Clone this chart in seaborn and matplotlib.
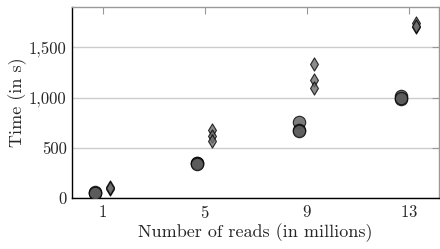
import numpy as np
import pandas as pd
import matplotlib
matplotlib.use("Agg")
import matplotlib.pyplot as plt
import seaborn as sns
from matplotlib.ticker import FuncFormatter

# measured runtimes, three runs per size
reads = [1, 5, 9, 13]
time_circle = [[50, 60, 55], [345, 350, 340], [760, 680, 670], [1020, 990, 1000]]
time_diamond = [[95, 110, 100], [680, 620, 570], [1335, 1170, 1095], [1740, 1700, 1710]]
xticks = [1, 5, 9, 13]
yticks = [0, 500, 1000, 1500]

rows = []
for r, tc, td in zip(reads, time_circle, time_diamond):
    for v in tc:
        rows.append({"reads": r, "time": v, "tool": "A"})
    for v in td:
        rows.append({"reads": r, "time": v, "tool": "B"})
df = pd.DataFrame(rows)
# small horizontal dodge so the two tools don't sit on top of each other
df["xpos"] = df["reads"] + df["tool"].map({"A": -0.3, "B": 0.3})

sns.set_theme(style="white")
plt.rcParams["font.family"] = ["cmr10", "DejaVu Serif"]
plt.rcParams["axes.formatter.use_mathtext"] = True

fig = plt.figure(figsize=(4.4, 2.49), dpi=100)
ax = fig.add_axes([0.164, 0.204, 0.834, 0.768])

ax.grid(axis="y", color="#cccccc", linewidth=1.0, zorder=0)
ax.set_axisbelow(True)

sns.scatterplot(data=df[df["tool"] == "A"], x="xpos", y="time", marker="o", s=80,
                color="#5a5a5a", edgecolor="black", linewidth=0.8, alpha=0.8, ax=ax, zorder=3)
sns.scatterplot(data=df[df["tool"] == "B"], x="xpos", y="time", marker="d", s=45,
                color="#6e6e6e", edgecolor="black", linewidth=0.8, alpha=0.8, ax=ax, zorder=3)

ax.set_xlim(-0.2, 14.2)
ax.set_ylim(0, 1900)
ax.set_xticks(xticks)
ax.set_yticks(yticks)
ax.yaxis.set_major_formatter(FuncFormatter(lambda v, p: f"{v:,.0f}"))
ax.set_xlabel("Number of reads (in millions)", fontsize=13, labelpad=2)
ax.set_ylabel("Time (in s)", fontsize=13, labelpad=1)

ax.tick_params(axis="both", labelsize=12, direction="in", length=5, width=0.8,
               color="#999999", top=True, right=True, pad=4)
for side in ["left", "bottom"]:
    ax.spines[side].set_color("black")
    ax.spines[side].set_linewidth(1.0)
for side in ["top", "right"]:
    ax.spines[side].set_color("#999999")
    ax.spines[side].set_linewidth(1.0)

fig.savefig("out.png", dpi=100)
